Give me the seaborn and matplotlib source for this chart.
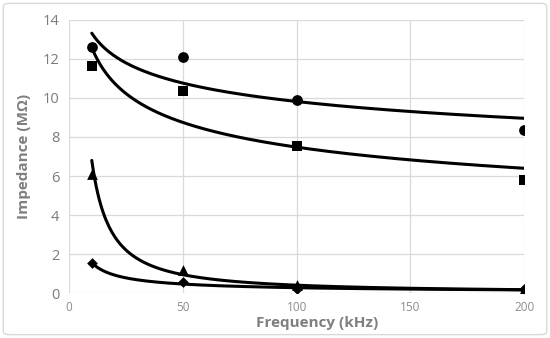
import numpy as np
import pandas as pd
import matplotlib
matplotlib.use("Agg")
import matplotlib.pyplot as plt
import seaborn as sns
from matplotlib.patches import FancyBboxPatch

# Data
freq = [10, 50, 100, 200]
circle = [12.6, 12.08, 9.91, 8.36]
square = [11.62, 10.34, 7.54, 5.81]
triangle = [6.1, 1.18, 0.41, 0.15]
diamond = [1.52, 0.58, 0.19, 0.19]

series = {"circle": circle, "square": square, "triangle": triangle, "diamond": diamond}
markers = {"circle": "o", "square": "s", "triangle": "^", "diamond": "D"}
sizes = {"circle": 60, "square": 55, "triangle": 60, "diamond": 30}

df = pd.concat([pd.DataFrame({"freq": freq, "imp": v, "series": k}) for k, v in series.items()])

sns.set_style("white")
plt.rcParams["font.family"] = ["Open Sans", "DejaVu Sans"]

fig = plt.figure(figsize=(5.5, 3.38), dpi=100)
ax = fig.add_axes([0.1255, 0.133, 0.8275, 0.808])

# Power trendlines (Excel style: fit in log-log space)
xs = np.linspace(min(freq), max(freq), 300)
for name, vals in series.items():
    b, lna = np.polyfit(np.log(freq), np.log(vals), 1)
    fit = pd.DataFrame({"freq": xs, "imp": np.exp(lna) * xs ** b})
    sns.lineplot(data=fit, x="freq", y="imp", ax=ax, color="black", lw=2.2, zorder=3)

for name in series:
    sub = df[df["series"] == name]
    sns.scatterplot(data=sub, x="freq", y="imp", ax=ax, marker=markers[name],
                    s=sizes[name], color="black", edgecolor="black", linewidth=0, zorder=4)

ax.set_xlim(0, 200)
ax.set_ylim(0, 14)
ax.set_xticks([0, 50, 100, 150, 200])
ax.set_yticks(range(0, 15, 2))
ax.grid(True, color="#d9d9d9", lw=0.9)
for s in ax.spines.values():
    s.set_visible(False)
ax.tick_params(axis="both", length=0)
ax.tick_params(axis="x", pad=6, labelsize=8.5, colors="#8c8c8c")
ax.tick_params(axis="y", pad=7, labelsize=10.5, colors="#7a7a7a")
ax.set_xlabel("Frequency (kHz)", fontsize=11, fontweight="bold", color="#7f7f7f", labelpad=2)
ax.xaxis.set_label_coords(0.545, -0.085)
ax.set_ylabel("Impedance (MΩ)", fontsize=11, fontweight="bold", color="#7f7f7f", labelpad=8)

border = FancyBboxPatch((0.006, 0.01), 0.988, 0.98, boxstyle="round,pad=0,rounding_size=0.01",
                        transform=fig.transFigure, facecolor="none", edgecolor="#d9d9d9", lw=1)
fig.patches.append(border)

fig.savefig("out.png", dpi=100)
